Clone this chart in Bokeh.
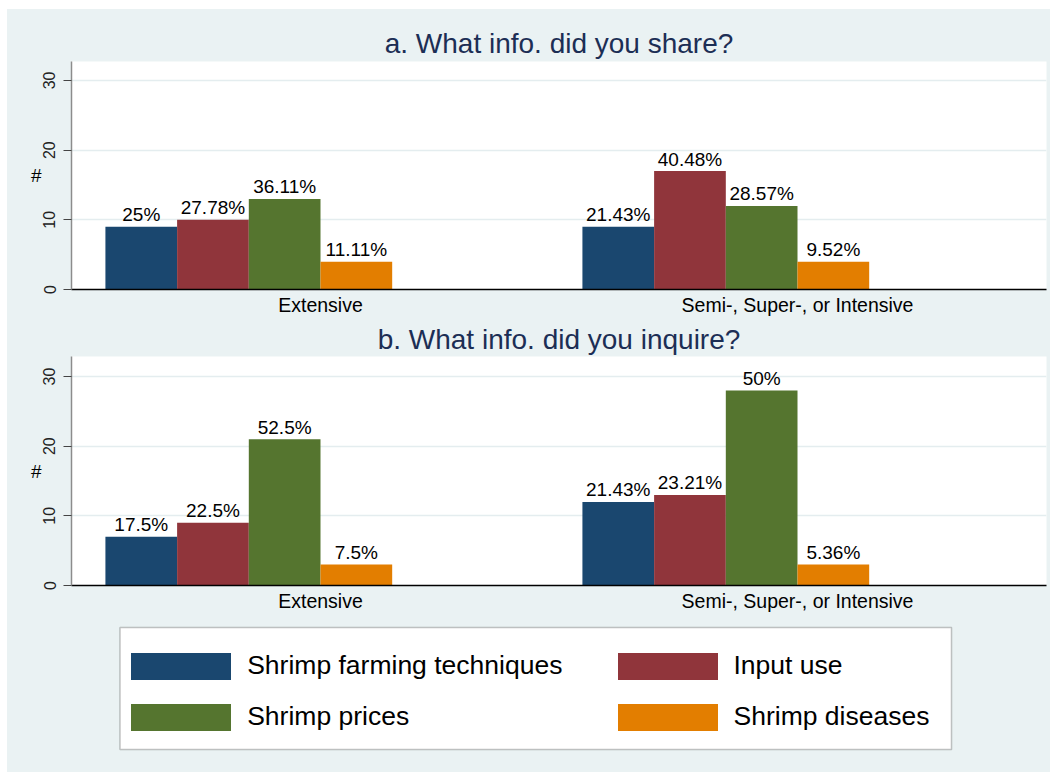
import math
from bokeh.plotting import figure
from bokeh.models import (Range1d, FixedTicker, Legend, LegendItem, BoxAnnotation,
                          ColumnDataSource)
from bokeh.layouts import column
from bokeh.embed import file_html
from bokeh.resources import INLINE
from bokeh.core.properties import value

# ---------------- data ----------------
categories = ["Extensive", "Semi-, Super-, or Intensive"]
series = ["Shrimp farming techniques", "Input use", "Shrimp prices", "Shrimp diseases"]
colors = ["#1A476F", "#90353B", "#55752F", "#E37E00"]

share_extensive = [9, 10, 13, 4]
share_intensive = [9, 17, 12, 4]
inquire_extensive = [7, 9, 21, 3]
inquire_intensive = [12, 13, 28, 3]

y_ticks = [0, 10, 20, 30]

# ---------------- style / layout ----------------
FONT = "Liberation Sans"
BG = "#EAF2F3"
TITLE_COLOR = "#1C2E55"
BW = 0.1503          # bar width in category units
LEFT_B, RIGHT_B, FRAME_W = 64, 4, 975


def make_panel(title, groups, frame_h, y_max, top_b, bottom_b, title_standoff):
    p = figure(frame_width=FRAME_W, frame_height=frame_h,
               x_range=Range1d(-0.522, 1.522), y_range=Range1d(0, y_max),
               output_backend="svg", toolbar_location=None,
               min_border_left=LEFT_B, min_border_right=RIGHT_B,
               min_border_top=top_b, min_border_bottom=bottom_b,
               background_fill_color="white", border_fill_color=BG,
               outline_line_color=None)
    xs, tops, cols, labels = [], [], [], []
    for g, vals in enumerate(groups):
        total = sum(vals)
        for s, v in enumerate(vals):
            xs.append(g + (s - 2.5) * BW)
            tops.append(v)
            cols.append(colors[s])
            labels.append(f"{round(100 * v / total, 2):g}%")
    src = ColumnDataSource(dict(x=xs, top=tops, color=cols, label=labels))
    p.vbar(x="x", top="top", width=BW, fill_color="color", line_color=None, source=src)
    p.text(x="x", y="top", text="label", source=src, text_align="center",
           text_baseline="alphabetic", y_offset=-12, text_font=value(FONT),
           text_font_size="19px", text_color="black")

    p.title.text = title
    p.title.align = "center"
    p.title.text_font = FONT
    p.title.text_font_size = "28px"
    p.title.text_font_style = "normal"
    p.title.text_color = TITLE_COLOR
    p.title.standoff = title_standoff

    xa = p.xaxis[0]
    xa.ticker = FixedTicker(ticks=[0, 1])
    xa.major_label_overrides = {0: categories[0], 1: categories[1]}
    xa.major_tick_line_color = None
    xa.major_tick_out = 0
    xa.major_tick_in = 0
    xa.minor_tick_line_color = None
    xa.axis_line_color = "black"
    xa.axis_line_width = 1.5
    xa.major_label_text_font = FONT
    xa.major_label_text_font_size = "19.5px"
    xa.major_label_text_color = "black"
    xa.major_label_standoff = 4
    p.xgrid.visible = False

    ya = p.yaxis[0]
    ya.ticker = FixedTicker(ticks=y_ticks)
    ya.major_label_orientation = "vertical"
    ya.major_label_text_font = FONT
    ya.major_label_text_font_size = "16px"
    ya.major_label_text_color = "#222222"
    ya.major_label_standoff = 8
    ya.major_tick_out = 8
    ya.major_tick_in = 0
    ya.major_tick_line_color = "#444444"
    ya.major_tick_line_width = 1.2
    ya.minor_tick_line_color = None
    ya.axis_line_color = "#8C8C8C"
    ya.axis_line_width = 1.5
    ya.axis_label = "#"
    ya.axis_label_orientation = "horizontal"
    ya.axis_label_text_font = FONT
    ya.axis_label_text_font_size = "19px"
    ya.axis_label_text_font_style = "normal"
    ya.axis_label_text_color = "black"
    ya.axis_label_standoff = -1
    p.ygrid.ticker = FixedTicker(ticks=y_ticks[1:])
    p.ygrid.grid_line_color = "#E4EDEF"
    p.ygrid.grid_line_width = 1.5
    return p, src


p_a, src_a = make_panel("a. What info. did you share?", [share_extensive, share_intensive],
                        228, 32.72, 52, 29, 6)
p_b, src_b = make_panel("b. What info. did you inquire?", [inquire_extensive, inquire_intensive],
                        229, 32.87, 38, 29, 4)

# ---------------- legend panel (page coordinates: x 71..1046, y 614..772) ----------------
pl = figure(frame_width=FRAME_W, frame_height=158,
            x_range=Range1d(71, 1046), y_range=Range1d(772, 614),
            output_backend="svg", toolbar_location=None,
            min_border_left=LEFT_B, min_border_right=RIGHT_B,
            min_border_top=0, min_border_bottom=0,
            x_axis_location=None, y_axis_location=None,
            background_fill_color=BG, border_fill_color=BG, outline_line_color=None)
pl.grid.visible = False
pl.add_layout(BoxAnnotation(left=119.5, right=951, top=627, bottom=749,
                            fill_color="white", fill_alpha=1.0,
                            line_color="#3A3A3A", line_width=1.5, level="underlay"))
# legend-only renderer: carries the series colours, draws nothing itself
nan = float("nan")
leg_src = ColumnDataSource(dict(x=[nan] * len(series), top=[nan] * len(series),
                                color=colors, name=series))
r_leg = pl.vbar(x="x", top="top", bottom="top", width=0.5, fill_color="color",
                line_color=None, source=leg_src)


def make_legend(idx, loc):
    return Legend(items=[LegendItem(label=series[i], renderers=[r_leg], index=i) for i in idx],
                  location=loc, orientation="vertical", glyph_width=125, glyph_height=34,
                  label_standoff=4, spacing=17, padding=0, margin=0,
                  border_line_color=None, background_fill_alpha=0,
                  label_text_font=FONT, label_text_font_size="26.5px",
                  label_text_color="black")


pl.add_layout(make_legend([0, 2], (47.2, 38.3)))
pl.add_layout(make_legend([1, 3], (533.5, 38.3)))

layout = column(p_a, p_b, pl, spacing=0, margin=(9, 0, 0, 7),
                styles={"background-color": BG})
open("out.html", "w").write(file_html(layout, INLINE))
